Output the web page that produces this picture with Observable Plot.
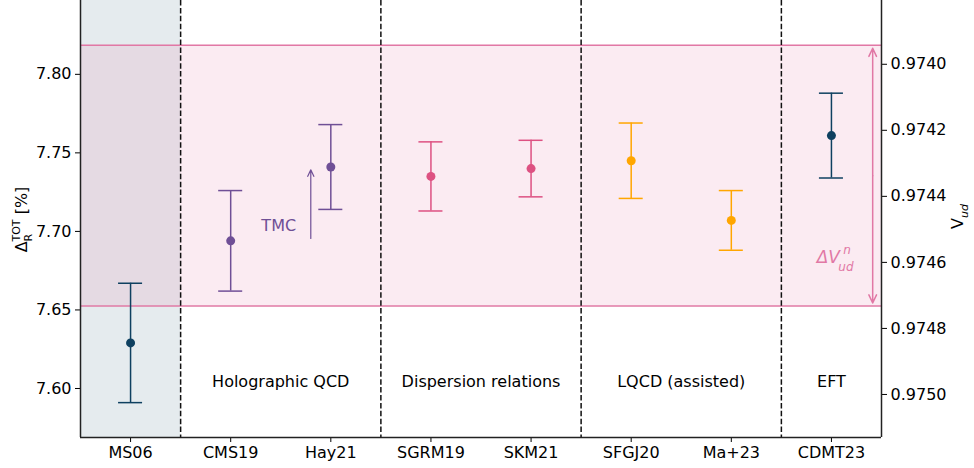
<!DOCTYPE html>
<html>
<head>
<meta charset="utf-8">
<script src="https://cdn.jsdelivr.net/npm/d3@7"></script>
<script src="https://cdn.jsdelivr.net/npm/@observablehq/plot@0.6"></script>
<style>
  html, body { margin: 0; padding: 0; background: #fff; }
  svg { font-family: "DejaVu Sans", sans-serif; }
</style>
</head>
<body>
<div id="chart"></div>
<script>
// ---- data ----
const categories = ["MS06", "CMS19", "Hay21", "SGRM19", "SKM21", "SFGJ20", "Ma+23", "CDMT23"];
const values = [7.629, 7.694, 7.741, 7.735, 7.740, 7.745, 7.707, 7.761];
const errors = [0.038, 0.032, 0.027, 0.022, 0.018, 0.024, 0.019, 0.027];
const families = ["MS", "Holo", "Holo", "Disp", "Disp", "LQCD", "LQCD", "EFT"];
const familyColors = { MS: "#0e4060", Holo: "#6f4f96", Disp: "#dd5182", LQCD: "#ffa600", EFT: "#0e4060" };
const groupLabels = ["Holographic QCD", "Dispersion relations", "LQCD (assisted)", "EFT"];
const groupCenters = [1.5, 3.5, 5.5, 7];
const groupLabelLevel = 7.604;
const separators = [0.5, 2.5, 4.5, 6.5];
const bandLow = 7.6525, bandHigh = 7.8185;
const leftTicks = [7.60, 7.65, 7.70, 7.75, 7.80];
const vudTicks = [0.9740, 0.9742, 0.9744, 0.9746, 0.9748, 0.9750];
// Vud <-> Delta relation
const vudRef = 0.9740, deltaRef = 7.8064, slope = -210.2;
const vudToDelta = v => deltaRef + (v - vudRef) * slope;
const tmcArrow = { x: 1.8, from: 7.6955, to: 7.7392 };
const tmcLabel = { x: 1.48, y: 7.7035, text: "TMC" };
const dvArrowX = 7.412;
const dvLabel = { x: 7.09, y: 7.6834 };

const points = categories.map((c, i) => ({ i, c, v: values[i], e: errors[i], col: familyColors[families[i]] }));

const yDomain = [7.5688, 7.847];
const pink = "rgb(225,120,165)";
const purple = "#6f4f96";

const chart = Plot.plot({
  width: 974,
  height: 468,
  marginLeft: 80,
  marginRight: 93,
  marginTop: 0,
  marginBottom: 31,
  style: { fontFamily: "DejaVu Sans", fontSize: "16px", background: "#fff", overflow: "visible" },
  x: { type: "linear", domain: [-0.5, 7.5] },
  y: { domain: yDomain },
  marks: [
    // MS06 shaded region
    Plot.rect([0], { x1: -0.5, x2: 0.5, y1: yDomain[0], y2: yDomain[1], fill: "#003f5c", fillOpacity: 0.1 }),
    // band
    Plot.rect([0], { x1: -0.5, x2: 7.5, y1: bandLow, y2: bandHigh, fill: pink, fillOpacity: 0.15 }),
    Plot.ruleY([bandLow, bandHigh], { stroke: pink, strokeWidth: 1.5 }),
    // separators
    Plot.ruleX(separators, { stroke: "#111", strokeWidth: 1.5, strokeDasharray: "5.5,2.4" }),
    // group labels
    Plot.text(groupLabels, { x: (d, k) => groupCenters[k], y: groupLabelLevel, text: d => d, fill: "#000", fontSize: 16 }),
    // error bars
    Plot.ruleX(points, { x: "i", y1: d => d.v - d.e, y2: d => d.v + d.e, stroke: "col", strokeWidth: 1.5 }),
    Plot.ruleY(points, { y: d => d.v - d.e, x1: d => d.i - 0.12, x2: d => d.i + 0.12, stroke: "col", strokeWidth: 1.5 }),
    Plot.ruleY(points, { y: d => d.v + d.e, x1: d => d.i - 0.12, x2: d => d.i + 0.12, stroke: "col", strokeWidth: 1.5 }),
    Plot.dot(points, { x: "i", y: "v", r: 4.5, fill: "col", stroke: "none" }),
    // TMC arrow
    Plot.arrow([tmcArrow], { x1: "x", x2: "x", y1: "from", y2: "to", stroke: purple, strokeWidth: 1.2, headLength: 9, headAngle: 50 }),
    Plot.text([tmcLabel], { x: "x", y: "y", text: "text", fill: purple, fontSize: 16 }),
    // Delta V double arrow
    Plot.arrow([{ a: (bandLow + bandHigh) / 2, b: bandHigh }, { a: (bandLow + bandHigh) / 2, b: bandLow }],
      { x1: dvArrowX, x2: dvArrowX, y1: "a", y2: "b", stroke: pink, strokeWidth: 1.5, headLength: 9, headAngle: 50, insetEnd: 3 }),
    // axes
    Plot.axisY(leftTicks, { anchor: "left", tickFormat: d3.format(".2f"), label: null, tickSize: 5, tickPadding: 4, fontSize: 16, color: "#000" }),
    Plot.axisY(vudTicks.map(vudToDelta), { anchor: "right", tickFormat: (d, k) => d3.format(".4f")(vudTicks[k]), label: null, tickSize: 5, tickPadding: 4, fontSize: 16, color: "#000" }),
    Plot.axisX(d3.range(categories.length), { anchor: "bottom", tickFormat: d => categories[d], label: null, tickSize: 5, tickPadding: 4, fontSize: 16, color: "#000" }),
    // frame (left, right, bottom)
    Plot.ruleX([-0.5, 7.5], { stroke: "#222", strokeWidth: 1.5 }),
    Plot.ruleY([yDomain[0]], { stroke: "#222", strokeWidth: 1.5 })
  ]
});

document.getElementById("chart").appendChild(chart);

const sx = chart.scale("x"), sy = chart.scale("y");
const svg = d3.select(chart);

// Delta V^n_ud label (separate pieces so super/subscript stack)
const dvx = sx.apply(dvLabel.x), dvy = sy.apply(dvLabel.y) + 6;
svg.append("text")
  .attr("x", dvx).attr("y", dvy)
  .attr("text-anchor", "end").attr("fill", pink)
  .style("font-size", "17px").style("font-style", "italic").text("ΔV");
svg.append("text")
  .attr("x", dvx + 7).attr("y", dvy - 9)
  .attr("fill", pink).style("font-size", "12px").style("font-style", "italic").text("n");
svg.append("text")
  .attr("x", dvx + 6).attr("y", dvy + 8)
  .attr("fill", pink).style("font-size", "12px").style("font-style", "italic").text("ud");

// left y label
const yMid = (sy.apply(yDomain[0]) + sy.apply(yDomain[1])) / 2;
const ll = svg.append("text")
  .attr("transform", `translate(27,${yMid + 1}) rotate(-90)`)
  .attr("text-anchor", "middle").attr("fill", "#000").style("font-size", "16px");
ll.append("tspan").text("Δ");
ll.append("tspan").attr("dy", 5).style("font-size", "11px").text("R");
ll.append("tspan").attr("dx", -7).attr("dy", -12).style("font-size", "11px").text("TOT");
ll.append("tspan").attr("dy", 7).text(" [%]");

// right y label
const rl = svg.append("text")
  .attr("transform", `translate(963,${yMid - 2}) rotate(-90)`)
  .attr("text-anchor", "middle").attr("fill", "#000").style("font-size", "16px");
rl.append("tspan").text("V");
rl.append("tspan").attr("dy", 5).style("font-size", "11px").style("font-style", "italic").text("ud");
</script>
</body>
</html>
